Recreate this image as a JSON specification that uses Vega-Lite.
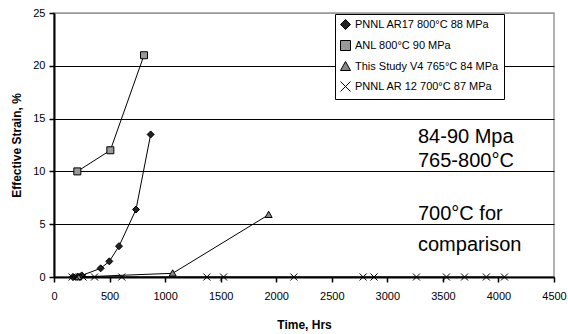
{
  "$schema": "https://vega.github.io/schema/vega-lite/v6.json",
  "width": 500,
  "height": 264,
  "autosize": {"type": "none"},
  "padding": {"left": 54, "top": 13, "right": 14, "bottom": 57},
  "background": "white",
  "config": {
    "font": "Liberation Sans",
    "view": {"stroke": "#999", "strokeWidth": 1.5},
    "axis": {"labelFont": "Liberation Sans", "titleFont": "Liberation Sans", "labelColor": "black", "titleColor": "black", "labelFontSize": 11, "titleFontSize": 12, "titleFontWeight": "bold"},
    "legend": {
      "title": null, "orient": "none", "legendX": 281, "legendY": 1,
      "strokeColor": "black", "fillColor": "white", "padding": 5,
      "labelFont": "Liberation Sans", "labelFontSize": 11, "labelColor": "black",
      "symbolSize": 100, "symbolStrokeColor": "black", "symbolStrokeWidth": 1, "rowPadding": 6, "labelOffset": 4
    }
  },
  "datasets": {
    "pts": [
      {"series": "PNNL AR17 800°C 88 MPa", "t": 170, "v": 0},
      {"series": "PNNL AR17 800°C 88 MPa", "t": 210, "v": 0.02},
      {"series": "PNNL AR17 800°C 88 MPa", "t": 250, "v": 0.15},
      {"series": "PNNL AR17 800°C 88 MPa", "t": 420, "v": 0.82},
      {"series": "PNNL AR17 800°C 88 MPa", "t": 498, "v": 1.48},
      {"series": "PNNL AR17 800°C 88 MPa", "t": 585, "v": 2.92},
      {"series": "PNNL AR17 800°C 88 MPa", "t": 738, "v": 6.39},
      {"series": "PNNL AR17 800°C 88 MPa", "t": 870, "v": 13.5},
      {"series": "ANL 800°C 90 MPa", "t": 210, "v": 10},
      {"series": "ANL 800°C 90 MPa", "t": 507, "v": 12},
      {"series": "ANL 800°C 90 MPa", "t": 810, "v": 21},
      {"series": "This Study V4 765°C 84 MPa", "t": 220, "v": 0},
      {"series": "This Study V4 765°C 84 MPa", "t": 1068, "v": 0.35},
      {"series": "This Study V4 765°C 84 MPa", "t": 1932, "v": 5.9},
      {"series": "PNNL AR 12 700°C 87 MPa", "t": 163, "v": 0},
      {"series": "PNNL AR 12 700°C 87 MPa", "t": 205, "v": 0},
      {"series": "PNNL AR 12 700°C 87 MPa", "t": 261, "v": 0},
      {"series": "PNNL AR 12 700°C 87 MPa", "t": 365, "v": 0},
      {"series": "PNNL AR 12 700°C 87 MPa", "t": 610, "v": 0},
      {"series": "PNNL AR 12 700°C 87 MPa", "t": 1376, "v": 0},
      {"series": "PNNL AR 12 700°C 87 MPa", "t": 1526, "v": 0},
      {"series": "PNNL AR 12 700°C 87 MPa", "t": 2159, "v": 0},
      {"series": "PNNL AR 12 700°C 87 MPa", "t": 2782, "v": 0},
      {"series": "PNNL AR 12 700°C 87 MPa", "t": 2880, "v": 0},
      {"series": "PNNL AR 12 700°C 87 MPa", "t": 3262, "v": 0},
      {"series": "PNNL AR 12 700°C 87 MPa", "t": 3532, "v": 0},
      {"series": "PNNL AR 12 700°C 87 MPa", "t": 3695, "v": 0},
      {"series": "PNNL AR 12 700°C 87 MPa", "t": 3891, "v": 0},
      {"series": "PNNL AR 12 700°C 87 MPa", "t": 4054, "v": 0}
    ],
    "notes": [
      {"label": "84-90 Mpa", "t": 3276, "v": 13.3},
      {"label": "765-800°C", "t": 3276, "v": 11.0},
      {"label": "700°C for", "t": 3276, "v": 6.0},
      {"label": "comparison", "t": 3276, "v": 3.0}
    ]
  },
  "layer": [
    {
      "data": {"name": "pts"},
      "mark": {"type": "line", "color": "black", "strokeWidth": 1},
      "encoding": {
        "x": {"field": "t", "type": "quantitative", "scale": {"domain": [0, 4500], "nice": false},
          "axis": {"title": "Time, Hrs", "format": "d", "values": [0,500,1000,1500,2000,2500,3000,3500,4000,4500], "grid": false, "domainColor": "black", "domainWidth": 2, "tickColor": "black", "tickSize": 5, "tickWidth": 1.5, "labelPadding": 8, "titlePadding": 18, "labelFlush": false}},
        "y": {"field": "v", "type": "quantitative", "scale": {"domain": [0, 25], "nice": false},
          "axis": {"title": "Effective Strain, %", "values": [0,5,10,15,20,25], "grid": true, "gridColor": {"condition": {"test": "datum.value == 25", "value": "#999"}, "value": "black"}, "gridWidth": 1, "gridOpacity": 1, "domainColor": "black", "domainWidth": 2, "tickColor": "black", "tickSize": 5, "tickWidth": 1.5, "labelPadding": 4, "titlePadding": 9}},
        "detail": {"field": "series"}
      }
    },
    {
      "data": {"name": "pts"},
      "mark": {"type": "point", "filled": true, "stroke": "black", "strokeWidth": 1, "opacity": 1},
      "encoding": {
        "x": {"field": "t", "type": "quantitative"},
        "y": {"field": "v", "type": "quantitative"},
        "shape": {"field": "series", "type": "nominal",
          "scale": {"domain": ["PNNL AR17 800°C 88 MPa", "ANL 800°C 90 MPa", "This Study V4 765°C 84 MPa", "PNNL AR 12 700°C 87 MPa"],
            "range": ["M0,-1L1,0L0,1L-1,0Z", "M-1,-1H1V1H-1Z", "M0,-1L1,0.8H-1Z", "M-1,-1L1,1M1,-1L-1,1"]},
          "legend": {}},
        "color": {"field": "series", "type": "nominal",
          "scale": {"domain": ["PNNL AR17 800°C 88 MPa", "ANL 800°C 90 MPa", "This Study V4 765°C 84 MPa", "PNNL AR 12 700°C 87 MPa"],
            "range": ["#222222", "#999999", "#888888", "black"]},
          "legend": {}},
        "size": {"value": 49}
      }
    },
    {
      "data": {"name": "notes"},
      "mark": {"type": "text", "align": "left", "baseline": "middle", "fontSize": 20, "font": "Liberation Sans", "color": "black"},
      "encoding": {
        "x": {"field": "t", "type": "quantitative"},
        "y": {"field": "v", "type": "quantitative"},
        "text": {"field": "label"}
      }
    }
  ]
}
